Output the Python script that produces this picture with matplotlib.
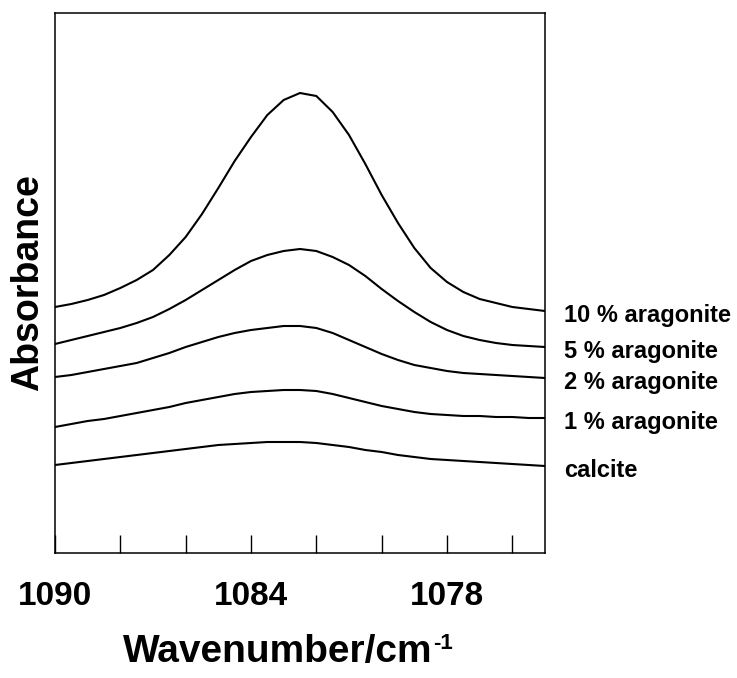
import matplotlib
matplotlib.use("Agg")
import matplotlib.pyplot as plt
import numpy as np

plt.rcParams['font.family'] = ['Liberation Sans', 'DejaVu Sans']

# Wavenumber grid (cm^-1), read every 0.5 cm^-1
wavenumber = [1090.0, 1089.5, 1089.0, 1088.5, 1088.0, 1087.5, 1087.0, 1086.5, 1086.0, 1085.5,
              1085.0, 1084.5, 1084.0, 1083.5, 1083.0, 1082.5, 1082.0, 1081.5, 1081.0, 1080.5,
              1080.0, 1079.5, 1079.0, 1078.5, 1078.0, 1077.5, 1077.0, 1076.5, 1076.0, 1075.5,
              1075.0]

# Absorbance (arbitrary units, stacked spectra as drawn)
arag10 = [246, 249, 253, 258, 265, 273, 283, 298, 316, 339, 365, 392, 416, 438, 453, 460,
          457, 441, 418, 389, 358, 330, 305, 285, 271, 261, 254, 250, 246, 244, 242]
arag5 = [209, 213, 217, 221, 225, 230, 236, 244, 253, 263, 273, 283, 292, 298, 302, 304,
         302, 296, 288, 277, 264, 252, 241, 231, 223, 217, 213, 210, 208, 207, 206]
arag2 = [176, 178, 181, 184, 187, 190, 195, 200, 206, 211, 216, 220, 223, 225, 227, 227,
         225, 220, 213, 206, 199, 193, 188, 185, 182, 180, 179, 178, 177, 176, 175]
arag1 = [126, 129, 132, 134, 137, 140, 143, 146, 150, 153, 156, 159, 161, 162, 163, 163,
         162, 159, 155, 151, 147, 144, 141, 139, 138, 137, 137, 136, 136, 135, 135]
calcite = [88, 90, 92, 94, 96, 98, 100, 102, 104, 106, 108, 109, 110, 111, 111, 111,
           110, 108, 106, 103, 101, 98, 96, 94, 93, 92, 91, 90, 89, 88, 87]

series = [arag10, arag5, arag2, arag1, calcite]
series_labels = ["10 % aragonite", "5 % aragonite", "2 % aragonite", "1 % aragonite", "calcite"]

major_ticks = [1090, 1084, 1078]
minor_ticks = [1088, 1086, 1082, 1080, 1076]

W, H = 737, 678
fig = plt.figure(figsize=(W / 100, H / 100), dpi=100)
left, right, top, bottom = 55, 545, 13, 553
ax = fig.add_axes([left / W, 1 - bottom / H, (right - left) / W, (bottom - top) / H])

for s in series:
    ax.plot(wavenumber, s, color='black', lw=1.5, solid_joinstyle='round')

ax.set_xlim(1090, 1075)
ax.set_ylim(0, 540)
ax.set_yticks([])
ax.set_xticks(major_ticks)
ax.set_xticklabels([str(t) for t in major_ticks])
ax.set_xticks(minor_ticks, minor=True)
ax.tick_params(axis='x', which='both', direction='in', length=13, width=1.0,
               color='black')
ax.tick_params(axis='x', which='major', pad=20, labelsize=24)
for lab in ax.get_xticklabels():
    lab.set_fontweight('bold')
for sp in ax.spines.values():
    sp.set_linewidth(1.1)

for s, lab in zip(series, series_labels):
    ax.annotate(lab, xy=(1.0, s[-1]), xycoords=('axes fraction', 'data'),
                xytext=(14, -3), textcoords='offset points',
                ha='left', va='center', fontsize=17, fontweight='bold',
                annotation_clip=False)

main = fig.text(123 / W, 1 - 662 / H, "Wavenumber/cm", ha='left', va='baseline',
                fontsize=28, fontweight='bold')
fig.canvas.draw()
bb = main.get_window_extent(renderer=fig.canvas.get_renderer())
fig.text(bb.x1 / W + 1 / W, 1 - 649 / H, "-1", ha='left', va='baseline',
         fontsize=16, fontweight='bold')

fig.text(28 / W, 1 - 283 / H, "Absorbance", ha='center', va='center', rotation=90,
         fontsize=27, fontweight='bold')

fig.savefig("out.png", dpi=100)
